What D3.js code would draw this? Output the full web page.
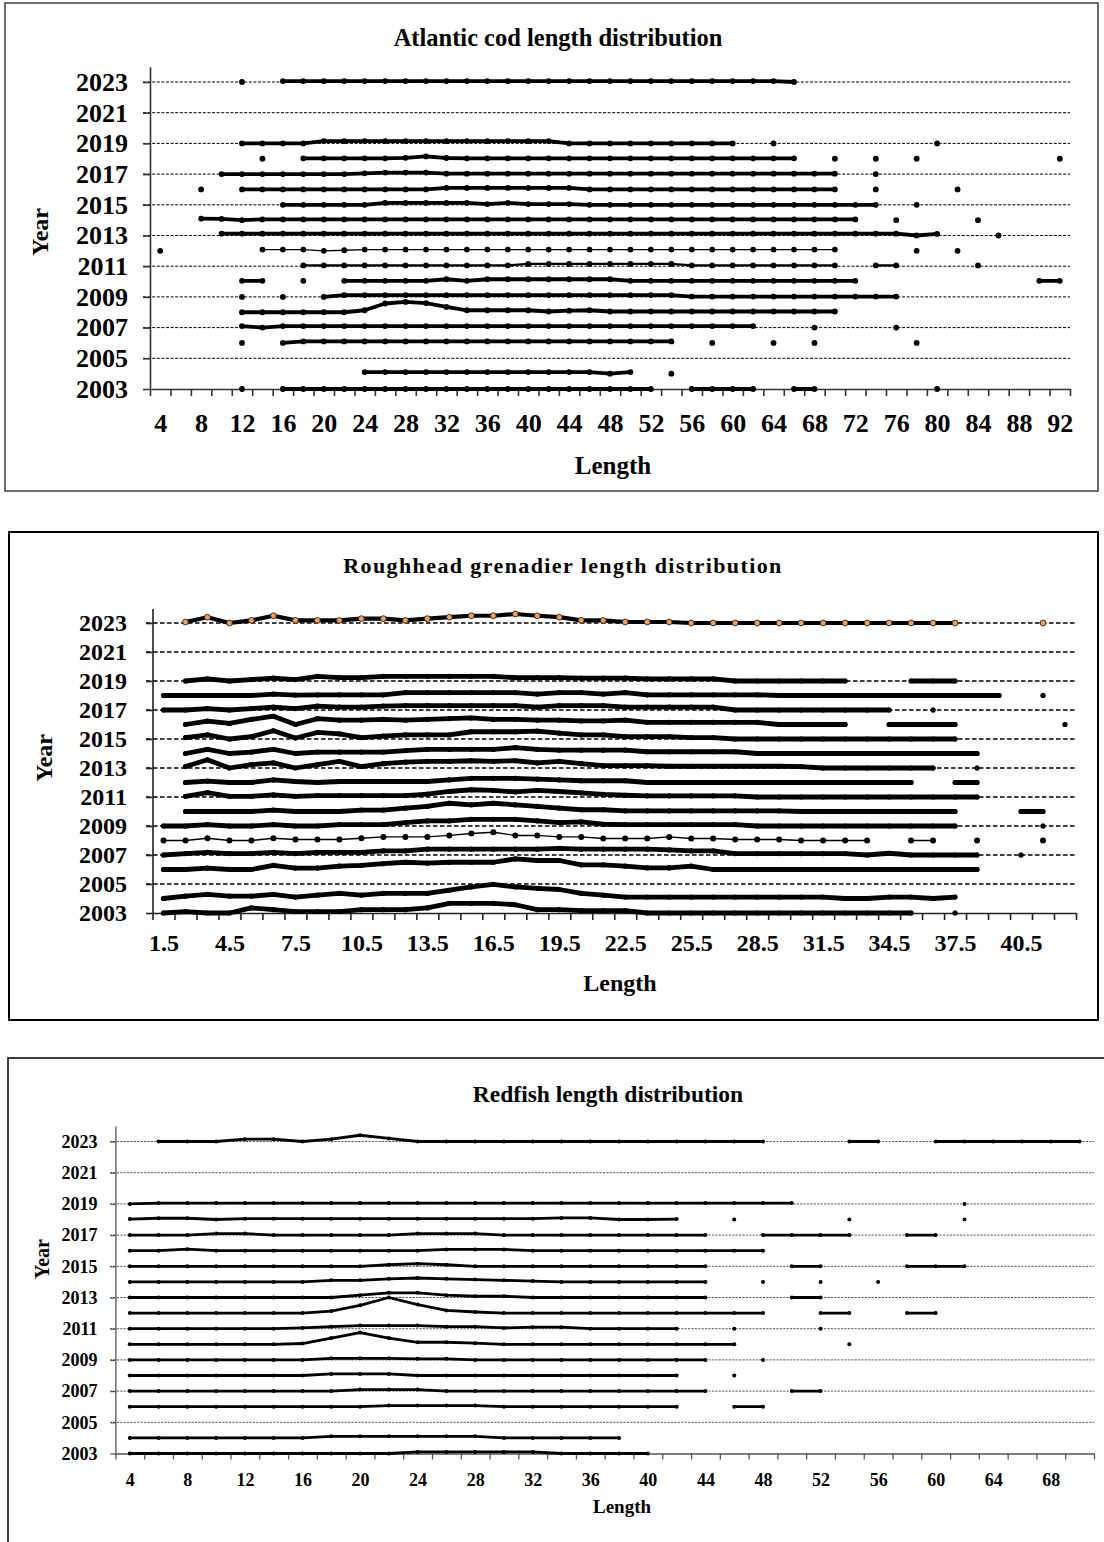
<!DOCTYPE html>
<html>
<head>
<meta charset="utf-8">
<script src="https://cdn.jsdelivr.net/npm/d3@7"></script>
<style>
  body { margin: 0; background: #fff; }
  svg { display: block; }
  text { font-family: "Liberation Serif", "Times New Roman", serif; font-weight: bold; fill: #000; }
</style>
</head>
<body>
<svg id="chart" width="1104" height="1542"></svg>
<script>
// ---- data -------------------------------------------------------------
// Each row holds the relative frequency per length class for one survey year
// (null = no fish caught in that class). Rows are drawn on the year baseline.
const _ = null;

const yearTicks = [2003, 2005, 2007, 2009, 2011, 2013, 2015, 2017, 2019, 2021, 2023];
const surveyYears = [2023, 2019, 2018, 2017, 2016, 2015, 2014, 2013, 2012, 2011, 2010, 2009, 2008, 2007, 2006, 2004, 2003];

// Atlantic cod, 2 cm classes
const codLengths = [4,6,8,10,12,14,16,18,20,22,24,26,28,30,32,34,36,38,40,42,44,46,48,50,52,54,56,58,60,62,64,66,68,70,72,74,76,78,80,82,84,86,88,90,92];
const codLabels = [4,8,12,16,20,24,28,32,36,40,44,48,52,56,60,64,68,72,76,80,84,88,92];
const codFreq = [
  /*2023*/ [_,_,_,_,0, _,.06,.06,.06,.06, .06,.06,.06,.06,.06, .06,.06,.06,.06,.06, .06,.06,.06,.06,.06, .06,.06,.06,.06,.06, .06,0,_,_,_, _,_,_,_,_, _,_,_,_,_],
  /*2019*/ [_,_,_,_,0, 0,0,0,.15,.15, .15,.15,.15,.15,.15, .15,.15,.15,.15,.15, 0,0,0,0,0, 0,0,0,0,_, 0,_,_,_,_, _,_,_,0,_, _,_,_,_,_],
  /*2018*/ [_,_,_,_,_, 0,_,.03,.03,.03, .03,.03,.06,.15,.05, .03,.03,.03,.03,.03, .03,.03,.03,.03,.03, .03,.03,.03,.03,.03, .03,.03,_,0,_, 0,_,0,_,_, _,_,_,_,0],
  /*2017*/ [_,_,_,0,0, 0,0,0,0,0, .05,.1,.1,.1,.03, .03,.03,.03,.03,.03, .03,.03,.03,.03,.03, .03,.03,.03,.03,.03, .03,.03,.03,.03,_, 0,_,_,_,_, _,_,_,_,_],
  /*2016*/ [_,_,0,_,0, 0,0,0,0,0, 0,0,0,0,.1, .1,.1,.1,.1,.1, .1,0,0,0,0, 0,0,0,0,0, 0,0,0,0,_, 0,_,_,_,0, _,_,_,_,_],
  /*2015*/ [_,_,_,_,_, _,0,0,0,0, 0,.12,.12,.12,.12, .12,.05,.12,.05,.05, .05,0,0,0,0, 0,0,0,0,0, 0,0,0,0,0, 0,_,0,_,_, _,_,_,_,_],
  /*2014*/ [_,_,.1,.08,0, .05,.05,.05,.05,.05, .05,.05,.05,.05,.05, .05,.05,.05,.05,.05, .05,.05,.05,.05,.05, .05,.05,.05,.05,.05, .05,.05,.05,.05,.05, _,0,_,_,_, 0,_,_,_,_],
  /*2013*/ [_,_,_,.12,.12, .12,.12,.12,.12,.12, .12,.12,.12,.12,.12, .12,.12,.12,.12,.12, .12,.12,.12,.12,.12, .12,.12,.12,.12,.12, .12,.12,.12,.12,.12, .12,.12,0,.1,_, _,0,_,_,_],
  /*2012*/ [0,_,_,_,_, .08,.08,.08,0,.04, .08,.08,.08,.08,.08, .08,.08,.08,.08,.08, .08,.08,.08,.08,.08, .08,.08,.08,.08,.08, .08,.08,.08,.08,_, _,_,0,_,0, _,_,_,_,_],
  /*2011*/ [_,_,_,_,_, _,_,.05,.05,.05, .05,.05,.05,.05,.05, .05,.05,.05,.15,.15, .15,.15,.15,.15,.15, .15,.05,.05,.05,.05, .05,.05,.05,.05,_, .05,.05,_,_,_, .05,_,_,_,_],
  /*2010*/ [_,_,_,_,.05, .05,_,.05,_,.05, .05,.05,.05,.05,.15, .05,.15,.15,.15,.15, .15,.15,.15,.05,.05, .05,.05,.05,.05,.05, .05,.05,.05,.05,.05, _,_,_,_,_, _,_,_,.05,.05],
  /*2009*/ [_,_,_,_,0, _,0,_,0,.12, .12,.12,.12,.12,.12, .12,.12,.12,.12,.12, .12,.12,.12,.12,.12, .12,.02,.02,.02,.02, .02,.02,.02,.02,.02, .02,.02,_,_,_, _,_,_,_,_],
  /*2008*/ [_,_,_,_,0, 0,0,0,0,0, .13,.57,.67,.6,.35, .13,.13,.13,.13,.05, .1,.13,.05,.05,.05, .05,.05,.05,.05,.05, .05,.05,.05,.05,_, _,_,_,_,_, _,_,_,_,_],
  /*2007*/ [_,_,_,_,.1, 0,.1,.1,.1,.1, .1,.1,.1,.1,.1, .1,.1,.1,.1,.1, .1,.1,.1,.1,.1, .1,.1,.1,.1,.1, _,_,0,_,_, _,0,_,_,_, _,_,_,_,_],
  /*2006*/ [_,_,_,_,0, _,0,.1,.1,.1, .1,.1,.1,.1,.1, .1,.1,.1,.1,.1, .1,.1,.1,.1,.1, .1,_,0,_,_, 0,_,0,_,_, _,_,0,_,_, _,_,_,_,_],
  /*2004*/ [_,_,_,_,_, _,_,_,_,_, .1,.1,.1,.1,.1, .1,.1,.1,.1,.1, .1,.1,0,.1,_, 0,_,_,_,_, _,_,_,_,_, _,_,_,_,_, _,_,_,_,_],
  /*2003*/ [_,_,_,_,0, _,0,0,0,0, 0,0,0,0,0, 0,0,0,0,0, 0,0,0,0,0, _,0,0,0,0, _,0,0,_,_, _,_,_,0,_, _,_,_,_,_]
];

// Roughhead grenadier, 1 cm classes
const grenLengths = [1.5,2.5,3.5,4.5,5.5,6.5,7.5,8.5,9.5,10.5,11.5,12.5,13.5,14.5,15.5,16.5,17.5,18.5,19.5,20.5,21.5,22.5,23.5,24.5,25.5,26.5,27.5,28.5,29.5,30.5,31.5,32.5,33.5,34.5,35.5,36.5,37.5,38.5,39.5,40.5,41.5,42.5];
const grenLabels = [1.5,4.5,7.5,10.5,13.5,16.5,19.5,22.5,25.5,28.5,31.5,34.5,37.5,40.5];
const grenFreq = [
  /*2023*/ [_,.07,.4,0,.18, .5,.18,.18,.18,.3, .3,.18,.3,.4,.5, .5,.62,.5,.4,.18, .18,.07,.07,.07,0, 0,0,0,0,0, 0,0,0,0,0, 0,0,_,_,_, 0,_],
  /*2019*/ [_,0,.14,0,.1, .2,.1,.32,.23,.23, .32,.32,.32,.32,.32, .32,.23,.23,.23,.2, .2,.2,.15,.15,.15, .15,0,0,0,0, 0,0,_,_,0, 0,0,_,_,_, _,_],
  /*2018*/ [0,0,0,0,0, .1,.03,.05,.05,.05, .05,.2,.2,.2,.2, .2,.2,.1,.2,.2, .1,.2,.05,.05,.05, .05,.05,.05,0,0, 0,0,0,0,0, 0,0,0,0,_, 0,_],
  /*2017*/ [0,0,.1,0,.1, .2,.1,.27,.2,.2, .27,.3,.3,.3,.3, .3,.3,.2,.3,.3, .3,.2,.2,.2,.2, .2,0,0,0,0, 0,0,0,0,_, 0,_,_,_,_, _,_],
  /*2016*/ [_,0,.23,.07,.35, .57,0,.4,.3,.3, .35,.3,.35,.4,.45, .35,.35,.3,.3,.25, .25,.3,.15,.15,.15, .15,.15,.15,0,0, 0,0,_,0,0, 0,0,_,_,_, _,0],
  /*2015*/ [_,.1,.28,0,.16, .57,.07,.45,.35,.1, .2,.28,.28,.28,.5, .5,.5,.55,.4,.28, .28,.16,.16,.16,.1, .1,0,0,0,0, 0,0,0,0,0, 0,0,_,_,_, _,_],
  /*2014*/ [_,0,.28,0,.1, .28,0,.1,.1,.1, .1,.2,.28,.28,.28, .28,.4,.28,.23,.23, .23,.23,.12,.12,.12, .12,.12,0,0,0, 0,0,0,0,0, 0,0,0,_,_, _,_],
  /*2013*/ [_,.1,.57,0,.23, .35,0,.23,.46,.1, .3,.4,.46,.46,.5, .46,.5,.35,.46,.3, .16,.16,.16,.12,.12, .12,.12,.12,.12,.1, 0,0,0,0,0, 0,_,0,_,_, _,_],
  /*2012*/ [_,0,.1,0,0, .18,.07,0,.07,.07, .07,.07,.07,.18,.28, .28,.28,.23,.18,.12, .12,.12,0,0,0, 0,0,0,0,0, 0,0,0,0,0, _,0,0,_,_, _,_],
  /*2011*/ [_,.05,.3,.05,.05, .15,.05,.1,.1,.1, .1,.1,.2,.38,.5, .45,.35,.45,.38,.28, .18,.12,.08,.08,.08, .08,.08,0,0,0, 0,0,0,0,0, 0,0,0,_,_, _,_],
  /*2010*/ [_,0,0,0,0, .1,0,0,0,.1, .1,.23,.35,.57,.46, .57,.46,.35,.23,.12, .12,.05,.05,.05,.05, .05,.05,.05,.05,0, 0,0,0,0,0, 0,0,_,_,0, 0,_],
  /*2009*/ [0,0,.1,0,0, .1,0,0,.1,.1, .1,.23,.35,.35,.46, .46,.46,.35,.23,.28, .12,.1,.1,.1,.1, .1,.1,0,0,0, 0,0,0,0,0, 0,0,_,_,_, 0,_],
  /*2008*/ [0,0,.16,0,0, .16,.07,.07,.07,.16, .25,.25,.25,.35,.48, .57,.35,.35,.25,.25, .14,.14,.14,.25,.14, .14,.07,.07,.07,0, 0,0,0,_,0, 0,_,0,_,_, 0,_],
  /*2007*/ [0,.1,.18,.1,.1, .18,.1,.18,.18,.18, .28,.28,.4,.4,.4, .4,.4,.4,.46,.4, .4,.4,.4,.35,.28, .28,.1,.1,.1,.1, .1,.1,0,.12,0, 0,0,0,_,0, _,_],
  /*2006*/ [0,0,.1,0,0, .28,.1,.1,.23,.28, .4,.5,.44,.5,.5, .5,.73,.62,.62,.32, .32,.23,.11,.11,.23, 0,0,0,0,0, 0,0,0,0,0, 0,0,0,_,_, _,_],
  /*2004*/ [0,.16,.28,.16,.16, .28,.1,.23,.35,.23, .35,.35,.35,.57,.8, .97,.8,.7,.62,.35, .23,.1,.1,.1,.1, .1,.1,.1,.1,.1, .1,0,0,.1,.1, 0,.1,_,_,_, _,_],
  /*2003*/ [0,.1,0,0,.35, .23,.1,.1,.1,.23, .23,.23,.35,.67,.67, .67,.57,.23,.23,.16, .16,.16,0,0,0, 0,0,0,0,0, 0,0,0,0,0, _,0,_,_,_, _,_]
];

// Redfish, 2 cm classes
const redLengths = [4,6,8,10,12,14,16,18,20,22,24,26,28,30,32,34,36,38,40,42,44,46,48,50,52,54,56,58,60,62,64,66,68,70];
const redLabels = [4,8,12,16,20,24,28,32,36,40,44,48,52,56,60,64,68];
const redFreq = [
  /*2023*/ [_,0,0,0,.15, .15,0,.15,.4,.2, 0,0,0,0,0, 0,0,0,0,0, 0,0,0,_,_, 0,0,_,0,0, 0,0,0,0],
  /*2019*/ [0,.05,.05,.05,.05, .05,.05,.05,.05,.05, .05,.05,.05,.05,.05, .05,.05,.05,.05,.05, .05,.05,.05,.05,_, _,_,_,_,0, _,_,_,_],
  /*2018*/ [.03,.08,.08,0,.05, .05,.05,.05,.05,.05, .05,.05,.05,.05,.05, .1,.1,0,0,.03, _,0,_,_,_, 0,_,_,_,0, _,_,_,_],
  /*2017*/ [0,0,0,.1,.1, 0,0,0,0,0, .1,.1,.1,0,0, 0,0,0,0,0, 0,_,0,0,0, 0,_,0,0,_, _,_,_,_],
  /*2016*/ [0,0,.1,0,0, 0,0,0,0,0, 0,.08,.08,.08,0, 0,0,0,0,0, 0,0,0,_,_, _,_,_,_,_, _,_,_,_],
  /*2015*/ [0,0,0,0,0, 0,0,0,0,.1, .17,.1,0,0,0, 0,0,0,0,0, 0,_,_,0,0, _,_,0,0,0, _,_,_,_],
  /*2014*/ [0,0,0,0,0, 0,0,.1,.1,.2, .25,.2,.15,.1,.05, 0,0,0,0,0, 0,_,0,_,0, _,0,_,_,_, _,_,_,_],
  /*2013*/ [0,0,0,0,0, 0,0,0,.15,.3, .3,.15,.08,.08,0, 0,0,0,0,0, 0,_,_,0,0, _,_,_,_,_, _,_,_,_],
  /*2012*/ [0,0,0,0,0, 0,0,.13,.5,1.0, .55,.17,.07,0,0, 0,0,0,0,0, 0,0,0,_,0, 0,_,0,0,_, _,_,_,_],
  /*2011*/ [0,0,0,0,0, 0,.05,.13,.2,.2, .2,.13,.13,.05,.1, .1,0,0,0,0, _,0,_,_,0, _,_,_,_,_, _,_,_,_],
  /*2010*/ [0,0,0,0,0, 0,.05,.4,.75,.4, .13,.13,.07,0,0, 0,0,0,0,0, 0,0,_,_,_, 0,_,_,_,_, _,_,_,_],
  /*2009*/ [0,0,0,0,0, 0,0,.1,.1,.1, .07,.07,0,0,0, 0,0,0,0,0, 0,_,0,_,_, _,_,_,_,_, _,_,_,_],
  /*2008*/ [0,0,0,0,0, 0,0,.1,.1,.1, 0,0,0,0,0, 0,0,0,0,0, _,0,_,_,_, _,_,_,_,_, _,_,_,_],
  /*2007*/ [0,0,0,0,0, 0,0,0,.1,.1, .1,0,0,0,0, 0,0,0,0,0, 0,_,_,0,0, _,_,_,_,_, _,_,_,_],
  /*2006*/ [0,0,0,0,0, 0,0,0,0,.07, .07,.07,.07,0,0, 0,0,0,0,0, _,0,0,_,_, _,_,_,_,_, _,_,_,_],
  /*2004*/ [0,0,0,0,0, 0,0,.1,.1,.1, .1,.1,.1,0,0, 0,0,0,_,_, _,_,_,_,_, _,_,_,_,_, _,_,_,_],
  /*2003*/ [0,0,0,0,0, 0,0,0,0,0, .1,.1,.1,.1,.1, 0,0,0,0,_, _,_,_,_,_, _,_,_,_,_, _,_,_,_]
];

// ---- drawing ----------------------------------------------------------
const svg = d3.select("#chart");

function drawPanel(p) {
  const g = svg.append("g");

  // outer frame
  g.append("rect")
    .attr("x", p.frame[0]).attr("y", p.frame[1])
    .attr("width", p.frame[2]).attr("height", p.frame[3])
    .attr("fill", "none").attr("stroke", p.frameColor).attr("stroke-width", p.frameWidth);

  const step = p.lengths[1] - p.lengths[0];
  const x = d3.scaleLinear()
    .domain([p.lengths[0] - step / 2, p.lengths[p.lengths.length - 1] + step / 2])
    .range(p.xRange);
  const y = d3.scaleLinear().domain([2003, 2024]).range([p.yBottom, p.yTop]);

  // dashed year gridlines
  g.append("g").selectAll("line")
    .data(yearTicks.filter(t => t > 2003))
    .join("line")
    .attr("x1", p.gridStart).attr("x2", p.xRange[1])
    .attr("y1", d => y(d)).attr("y2", d => y(d))
    .attr("stroke", p.gridColor).attr("stroke-width", p.gridWidth)
    .attr("stroke-dasharray", p.gridDash);

  // y axis
  const yAxis = g.append("g")
    .attr("transform", `translate(${p.xRange[0]},0)`)
    .call(d3.axisLeft(y).tickValues(yearTicks).tickFormat(d => d)
      .tickSize(p.yTickSize).tickSizeOuter(0).tickPadding(p.yPad));
  yAxis.select(".domain").attr("stroke", p.axisColor).attr("stroke-width", p.axisWidth);
  yAxis.selectAll(".tick line").attr("stroke", p.axisColor).attr("stroke-width", p.axisWidth);
  yAxis.selectAll("text").attr("font-size", p.tickFont).attr("fill", "#000")
    .style("font-family", '"Liberation Serif", serif').style("font-weight", "bold");

  // x axis: tick marks at class boundaries
  const bounds = p.lengths.map(l => l - step / 2).concat([p.lengths[p.lengths.length - 1] + step / 2]);
  const xAxis = g.append("g")
    .attr("transform", `translate(0,${p.yBottom})`)
    .call(d3.axisBottom(x).tickValues(bounds).tickFormat("")
      .tickSize(p.xTickSize).tickSizeOuter(0));
  xAxis.select(".domain").attr("stroke", p.axisColor).attr("stroke-width", p.axisWidth);
  xAxis.selectAll(".tick line").attr("stroke", p.axisColor).attr("stroke-width", p.axisWidth);

  // x axis: class labels
  const xLab = g.append("g")
    .attr("transform", `translate(0,${p.yBottom})`)
    .call(d3.axisBottom(x).tickValues(p.labels).tickFormat(d => String(d))
      .tickSize(0).tickPadding(p.xPad));
  xLab.select(".domain").remove();
  xLab.selectAll("text").attr("font-size", p.tickFont).attr("fill", "#000")
    .style("font-family", '"Liberation Serif", serif').style("font-weight", "bold");

  // titles
  g.append("text").attr("x", p.title.x).attr("y", p.title.y)
    .attr("text-anchor", "middle").attr("font-size", p.title.size)
    .attr("letter-spacing", p.title.ls || 0).text(p.title.text);
  g.append("text").attr("x", p.lengthLabel.x).attr("y", p.lengthLabel.y)
    .attr("text-anchor", "middle").attr("font-size", p.lengthLabel.size).text("Length");
  g.append("text")
    .attr("transform", `translate(${p.yearLabel.x},${p.yearLabel.y}) rotate(-90)`)
    .attr("text-anchor", "middle").attr("dominant-baseline", "central")
    .attr("font-size", p.yearLabel.size).text("Year");

  // one line per survey year, raised by the class frequency
  const line = d3.line()
    .defined(d => d.v !== null)
    .x(d => x(d.L))
    .y(d => y(d.yr + d.v));

  surveyYears.forEach((yr, r) => {
    const pts = p.lengths.map((L, i) => ({ L, v: p.freq[r][i], yr }));
    const st = Object.assign({}, p.series, (p.seriesOverride || {})[yr] || {});
    g.append("path")
      .attr("d", line(pts))
      .attr("fill", "none").attr("stroke", "#000")
      .attr("stroke-width", st.width)
      .attr("stroke-linejoin", "round").attr("stroke-linecap", "round");
    g.append("g").selectAll("circle")
      .data(pts.filter(d => d.v !== null))
      .join("circle")
      .attr("cx", d => x(d.L)).attr("cy", d => y(d.yr + d.v))
      .attr("r", st.r)
      .attr("fill", st.fill || "#000")
      .attr("stroke", st.stroke || "none")
      .attr("stroke-width", st.strokeWidth || 0);
  });
}

drawPanel({
  frame: [5, 3, 1093, 488], frameColor: "#333", frameWidth: 1.4,
  lengths: codLengths, labels: codLabels, freq: codFreq,
  xRange: [150, 1070], yBottom: 389, yTop: 66.65,
  gridStart: 143, gridColor: "#000", gridWidth: 1, gridDash: "3,1.6",
  axisColor: "#333", axisWidth: 1.6,
  yTickSize: 7, yPad: 15, xTickSize: 7, xPad: 24.5, tickFont: 26,
  title: { text: "Atlantic cod length distribution", x: 558, y: 46, size: 24.5 },
  lengthLabel: { x: 613, y: 474, size: 25 },
  yearLabel: { x: 40, y: 232, size: 24 },
  series: { width: 3.8, r: 2.9 },
  seriesOverride: { 2012: { width: 1.3 }, 2011: { width: 2.2 } }
});

drawPanel({
  frame: [9, 532, 1089, 488], frameColor: "#000", frameWidth: 2,
  lengths: grenLengths, labels: grenLabels, freq: grenFreq,
  xRange: [152.5, 1076], yBottom: 913, yTop: 608.5,
  gridStart: 146, gridColor: "#000", gridWidth: 1.3, gridDash: "4.5,2.5",
  axisColor: "#222", axisWidth: 1.6,
  yTickSize: 6.5, yPad: 19, xTickSize: 7, xPad: 21, tickFont: 24,
  title: { text: "Roughhead grenadier length distribution", x: 563, y: 573, size: 22, ls: 1.4 },
  lengthLabel: { x: 620, y: 991, size: 24 },
  yearLabel: { x: 44, y: 758, size: 24 },
  series: { width: 4.8, r: 2.6 },
  seriesOverride: {
    2023: { width: 4.2, r: 2.9, fill: "#f5a05a", stroke: "#222", strokeWidth: 0.9 },
    2008: { width: 1.4, r: 3 }
  }
});

drawPanel({
  frame: [8, 1058, 1200, 600], frameColor: "#000", frameWidth: 1.5,
  lengths: redLengths, labels: redLabels, freq: redFreq,
  xRange: [115.4, 1094], yBottom: 1453.5, yTop: 1125.9,
  gridStart: 110, gridColor: "#444", gridWidth: 0.9, gridDash: "2.2,1.2",
  axisColor: "#555", axisWidth: 1.3,
  yTickSize: 5, yPad: 13, xTickSize: 6, xPad: 19.7, tickFont: 18,
  title: { text: "Redfish length distribution", x: 608, y: 1102, size: 23.5 },
  lengthLabel: { x: 622, y: 1513, size: 19 },
  yearLabel: { x: 42, y: 1259, size: 20 },
  series: { width: 2.8, r: 2.0 }
});
</script>
</body>
</html>
